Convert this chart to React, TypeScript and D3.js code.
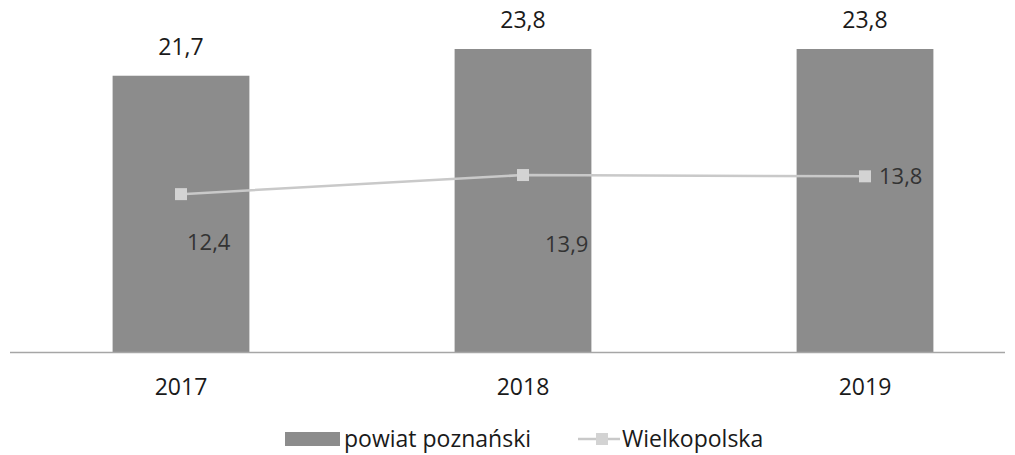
import React from 'react';
import * as d3 from 'd3';

const years = ['2017', '2018', '2019'];
const powiatValues = [21.7, 23.8, 23.8];
const wielkopolskaValues = [12.4, 13.9, 13.8];
const seriesNames = ['powiat poznański', 'Wielkopolska'];

const width = 1015;
const height = 455;
const baseline = 352;
const barColor = '#8c8c8c';
const lineColor = '#c9c9c9';
const markerColor = '#d3d3d3';
const font = '"Open Sans", Lato, sans-serif';

// label offsets for line values (dx, dy from the point)
const lineLabelOffsets = [
  [6, 56, 'start'],
  [22, 77, 'start'],
  [14, 8, 'start'],
];

const fmt = (v: number) => v.toFixed(1).replace('.', ',');

const App = () => {
  const x = d3.scaleBand().domain(years).range([10, 1036]).paddingInner(0.6).paddingOuter(0.3);
  const y = d3.scaleLinear().domain([0, 23.8]).range([baseline, 49]);

  const line = d3
    .line<number>()
    .x((d, i) => (x(years[i]) as number) + x.bandwidth() / 2)
    .y((d) => y(d));

  return (
    <svg
      width={width}
      height={height}
      style={{ position: 'absolute', left: 0, top: 0, background: '#fff' }}
    >
      {/* bars */}
      {powiatValues.map((v, i) => (
        <rect
          key={'b' + i}
          x={x(years[i])}
          y={y(v)}
          width={x.bandwidth()}
          height={baseline - y(v)}
          fill={barColor}
        />
      ))}
      {/* axis line */}
      <line x1={10} x2={1005} y1={baseline + 0.5} y2={baseline + 0.5} stroke="#a6a6a6" strokeWidth={1.3} />
      {/* bar value labels */}
      {powiatValues.map((v, i) => (
        <text
          key={'bl' + i}
          x={(x(years[i]) as number) + x.bandwidth() / 2}
          y={y(v) - 21}
          textAnchor="middle"
          fontFamily={font}
          fontSize={23}
          fill="#1a1a1a"
        >
          {fmt(v)}
        </text>
      ))}
      {/* category labels */}
      {years.map((yr) => (
        <text
          key={yr}
          x={(x(yr) as number) + x.bandwidth() / 2}
          y={395}
          textAnchor="middle"
          fontFamily={font}
          fontSize={23}
          fill="#1a1a1a"
        >
          {yr}
        </text>
      ))}
      {/* line series */}
      <path d={line(wielkopolskaValues) || ''} fill="none" stroke={lineColor} strokeWidth={2.5} />
      {wielkopolskaValues.map((v, i) => {
        const cx = (x(years[i]) as number) + x.bandwidth() / 2;
        return (
          <rect key={'m' + i} x={cx - 6} y={y(v) - 6} width={12} height={12} fill={markerColor} />
        );
      })}
      {wielkopolskaValues.map((v, i) => {
        const cx = (x(years[i]) as number) + x.bandwidth() / 2;
        const [dx, dy, anchor] = lineLabelOffsets[i];
        return (
          <text
            key={'ll' + i}
            x={cx + (dx as number)}
            y={y(v) + (dy as number)}
            textAnchor={anchor as string}
            fontFamily={font}
            fontSize={22}
            fill="#333"
          >
            {fmt(v)}
          </text>
        );
      })}
      {/* legend */}
      <rect x={285} y={432} width={55} height={14} fill={barColor} />
      <text x={344} y={447} fontFamily={font} fontSize={23} fill="#1a1a1a">
        {seriesNames[0]}
      </text>
      <line x1={578} x2={620} y1={439} y2={439} stroke={lineColor} strokeWidth={2.5} />
      <rect x={596} y={433} width={12} height={12} fill={markerColor} />
      <text x={622} y={447} fontFamily={font} fontSize={23} fill="#1a1a1a">
        {seriesNames[1]}
      </text>
    </svg>
  );
};

export default App;
